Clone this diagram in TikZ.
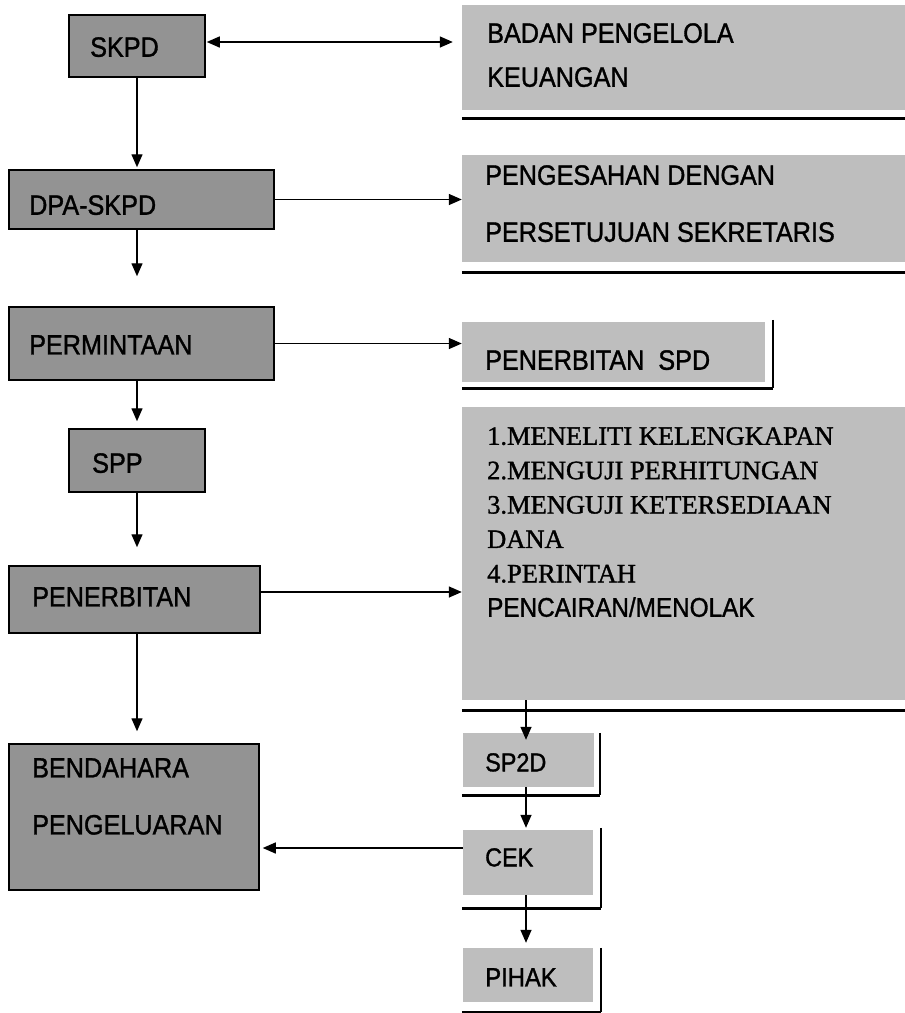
\documentclass[tikz,border=0pt]{standalone}
\usepackage{fontspec}
\usetikzlibrary{arrows.meta}
\newfontfamily\sansf[FakeStretch=0.9,FakeBold=1.2]{Liberation Sans}
\newfontfamily\seriff[FakeBold=1.2]{Liberation Serif}
\definecolor{leftfill}{HTML}{939393}
\definecolor{rightfill}{HTML}{BEBEBE}
\begin{document}
\begin{tikzpicture}[x=1pt,y=-1pt,
  lbox/.style={draw=black, line width=1.5pt, fill=leftfill, inner sep=0pt},
  rbox/.style={fill=rightfill, inner sep=0pt},
  shline/.style={line width=3pt},
  rline/.style={line width=2pt},
  arr/.style={line width=1.4pt, -{Triangle[length=13pt,width=11pt]}},
  darr/.style={line width=1.4pt, {Triangle[length=13pt,width=11pt]}-{Triangle[length=13pt,width=11pt]}},
  txt/.style={anchor=north west, inner sep=0pt, align=left, font=\fontsize{28}{30}\selectfont\sansf},
]
\fill[white] (0,0) rectangle (905,1013);
\useasboundingbox (0,0) rectangle (905,1013);

% left boxes
\node[lbox, minimum width=136pt, minimum height=62pt] (skpd) at (137,46) {};
\node[lbox, minimum width=265pt, minimum height=59pt] (dpa) at (141.5,199.5) {};
\node[lbox, minimum width=265pt, minimum height=73pt] (perm) at (141.5,343.5) {};
\node[lbox, minimum width=136pt, minimum height=63pt] (spp) at (137,460.5) {};
\node[lbox, minimum width=251pt, minimum height=67pt] (pen) at (134.5,599.5) {};
\node[lbox, minimum width=250pt, minimum height=146pt] (bend) at (134,817) {};

% right boxes
\node[rbox, minimum width=443pt, minimum height=105pt] (badan) at (683.5,57.5) {};
\node[rbox, minimum width=443pt, minimum height=107pt] (peng) at (683.5,208.5) {};
\node[rbox, minimum width=303pt, minimum height=60pt] (pspd) at (613.5,352) {};
\node[rbox, minimum width=443pt, minimum height=293pt] (big) at (683.5,553.5) {};
\node[rbox, minimum width=131pt, minimum height=54pt] (sp2d) at (528.5,760) {};
\node[rbox, minimum width=130pt, minimum height=65pt] (cek) at (528,862.5) {};
\node[rbox, minimum width=130pt, minimum height=54pt] (pihak) at (528,975) {};

% shadow borders of right boxes
\draw[shline] ([yshift=-8pt]badan.south west) -- ([yshift=-8pt]badan.south east);
\draw[shline] ([yshift=-10pt]peng.south west) -- ([yshift=-10pt]peng.south east);
\draw[shline] ([yshift=-6pt]pspd.south west) -- ([xshift=8pt,yshift=-6pt]pspd.south east);
\draw[rline] ([xshift=8pt,yshift=2pt]pspd.north east) -- ([xshift=8pt,yshift=-6pt]pspd.south east);
\draw[shline] ([yshift=-10pt]big.south west) -- ([yshift=-10pt]big.south east);
\draw[shline] ([xshift=-1pt,yshift=-8pt]sp2d.south west) -- ([xshift=6pt,yshift=-8pt]sp2d.south east);
\draw[rline] ([xshift=6pt]sp2d.north east) -- ([xshift=6pt,yshift=-8pt]sp2d.south east);
\draw[shline] ([xshift=-1pt,yshift=-13pt]cek.south west) -- ([xshift=8pt,yshift=-13pt]cek.south east);
\draw[rline] ([xshift=8pt,yshift=2pt]cek.north east) -- ([xshift=8pt,yshift=-13pt]cek.south east);
\draw[shline] ([xshift=-1pt,yshift=-10pt]pihak.south west) -- ([xshift=8pt,yshift=-10pt]pihak.south east);
\draw[rline] ([xshift=8pt]pihak.north east) -- ([xshift=8pt,yshift=-10pt]pihak.south east);

% texts
\node[txt] (skpdT) at (90,37) {SKPD};
\node[txt] (dpaT) at (29,195) {DPA-SKPD};
\node[txt] (permT) at (29,335) {PERMINTAAN};
\node[txt] (sppT) at (92,453) {SPP};
\node[txt] (penT) at (32,587) {PENERBITAN};
\node[txt, font=\fontsize{28}{57}\selectfont\sansf] (bendT) at (32,758) {BENDAHARA\\PENGELUARAN};
\node[txt, font=\fontsize{28}{44}\selectfont\sansf] (badanT) at (487,23) {BADAN PENGELOLA\\KEUANGAN};
\node[txt, font=\fontsize{28}{57}\selectfont\sansf] (pengT) at (485,165) {PENGESAHAN DENGAN\\PERSETUJUAN SEKRETARIS};
\node[txt] (pspdT) at (485,350) {PENERBITAN\ \ SPD};
\node[txt, font=\fontsize{26.5}{34.4}\selectfont\seriff] (bigT) at (487,427) {1.MENELITI KELENGKAPAN\\2.MENGUJI PERHITUNGAN\\3.MENGUJI KETERSEDIAAN\\DANA\\4.PERINTAH\\{\fontsize{27}{34.4}\selectfont\sansf PENCAIRAN/MENOLAK}};
\node[txt, font=\fontsize{26}{30}\selectfont\sansf] (sp2dT) at (485,753) {SP2D};
\node[txt, font=\fontsize{26}{30}\selectfont\sansf] (cekT) at (485,848) {CEK};
\node[txt, font=\fontsize{26.5}{30}\selectfont\sansf] (pihakT) at (485,968) {PIHAK};

% connectors
\draw[darr, shorten <=1pt, shorten >=9pt] ([yshift=4pt]skpd.east) -- ([yshift=4pt]skpd.east -| badan.west);
\draw[arr, shorten >=2pt] (skpd.south) -- (skpd.south |- dpa.north);
\draw[arr] (dpa.east) -- (dpa.east -| peng.west);
\draw[arr, shorten >=30pt] (dpa.south -| skpd.south) -- (skpd.south |- perm.north);
\draw[arr] (perm.east) -- (perm.east -| pspd.west);
\draw[arr, shorten >=7pt] (perm.south -| skpd.south) -- (spp.north);
\draw[arr, shorten >=18pt] (spp.south) -- (spp.south |- pen.north);
\draw[arr] ([yshift=7.5pt]pen.east) -- ([yshift=7.5pt]pen.east -| big.west);
\draw[arr, shorten >=12pt] (pen.south -| skpd.south) -- (skpd.south |- bend.north);
\draw[arr] ([xshift=-2.5pt]sp2d.north |- big.south) -- ([xshift=-2.5pt,yshift=-7pt]sp2d.north);
\draw[arr] ([xshift=-2.5pt]sp2d.south) -- ([xshift=-2pt,yshift=2pt]cek.north);
\draw[arr, shorten >=3pt] ([yshift=14.5pt]cek.west) -- ([yshift=14.5pt]cek.west -| bend.east);
\draw[arr] ([xshift=-2pt]cek.south) -- ([xshift=-2pt,yshift=5pt]pihak.north);
\end{tikzpicture}
\end{document}
